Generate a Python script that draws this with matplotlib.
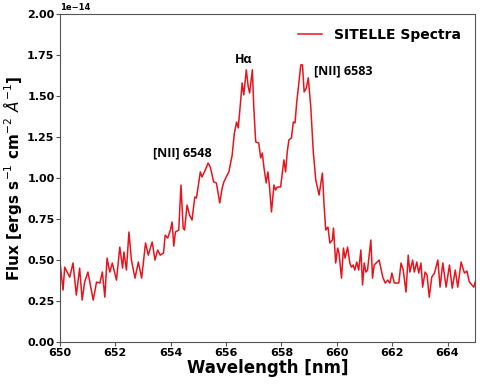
import numpy as np
import matplotlib
matplotlib.use("Agg")
import matplotlib.pyplot as plt

# wavelength [nm] and flux [1e-14 ergs/s/cm2/A]
wavelength = [650.00, 650.11, 650.17, 650.35, 650.47, 650.59, 650.71, 650.80, 650.89, 651.01,
              651.20, 651.32, 651.44, 651.53, 651.62, 651.70, 651.80, 651.89, 652.04, 652.16,
              652.26, 652.31, 652.40, 652.49, 652.58, 652.71, 652.83, 652.95, 653.09, 653.19,
              653.33, 653.43, 653.53, 653.62, 653.74, 653.80, 653.89, 653.99, 654.05, 654.11,
              654.17, 654.29, 654.37, 654.45, 654.50, 654.59, 654.68, 654.77, 654.87, 654.93,
              655.07, 655.13, 655.25, 655.35, 655.43, 655.55, 655.65, 655.77, 655.86, 655.92,
              656.04, 656.10, 656.22, 656.30, 656.38, 656.44, 656.52, 656.58, 656.64, 656.73,
              656.80, 656.85, 656.95, 657.00, 657.07, 657.18, 657.25, 657.31, 657.37, 657.45,
              657.51, 657.57, 657.64, 657.73, 657.79, 657.85, 657.97, 658.09, 658.15, 658.21,
              658.27, 658.36, 658.43, 658.49, 658.55, 658.63, 658.70, 658.76, 658.82, 658.90,
              658.97, 659.06, 659.15, 659.24, 659.36, 659.48, 659.54, 659.60, 659.68, 659.75,
              659.84, 659.88, 659.96, 660.03, 660.08, 660.17, 660.24, 660.30, 660.39, 660.47,
              660.53, 660.59, 660.65, 660.72, 660.79, 660.87, 660.93, 660.99, 661.05, 661.11,
              661.23, 661.29, 661.35, 661.53, 661.66, 661.75, 661.84, 661.92, 661.99, 662.08,
              662.24, 662.32, 662.40, 662.50, 662.58, 662.64, 662.74, 662.80, 662.89, 662.96,
              663.04, 663.10, 663.19, 663.26, 663.34, 663.43, 663.53, 663.65, 663.73, 663.83,
              663.95, 664.07, 664.17, 664.28, 664.37, 664.49, 664.61, 664.70, 664.79, 664.95,
              665.04]
flux = [0.488, 0.317, 0.457, 0.396, 0.482, 0.287, 0.451, 0.256, 0.366, 0.427,
        0.256, 0.366, 0.360, 0.427, 0.274, 0.512, 0.427, 0.482, 0.378, 0.579,
        0.451, 0.549, 0.439, 0.671, 0.500, 0.390, 0.488, 0.390, 0.604, 0.530,
        0.610, 0.500, 0.561, 0.530, 0.543, 0.652, 0.634, 0.683, 0.732, 0.585,
        0.671, 0.683, 0.957, 0.695, 0.683, 0.835, 0.774, 0.744, 0.884, 0.878,
        1.037, 1.006, 1.049, 1.091, 1.067, 0.976, 0.970, 0.848, 0.939, 0.976,
        1.018, 1.037, 1.140, 1.274, 1.341, 1.305, 1.457, 1.579, 1.506, 1.659,
        1.555, 1.518, 1.659, 1.433, 1.220, 1.213, 1.122, 1.152, 1.061, 0.970,
        1.037, 0.945, 0.793, 0.957, 0.927, 0.945, 0.945, 1.110, 1.037, 1.159,
        1.232, 1.244, 1.341, 1.335, 1.457, 1.579, 1.689, 1.689, 1.524, 1.549,
        1.610, 1.433, 1.159, 0.988, 0.896, 1.030, 0.835, 0.683, 0.701, 0.604,
        0.622, 0.695, 0.482, 0.573, 0.543, 0.390, 0.573, 0.512, 0.579, 0.482,
        0.457, 0.470, 0.439, 0.488, 0.439, 0.561, 0.348, 0.482, 0.427, 0.439,
        0.622, 0.390, 0.470, 0.500, 0.396, 0.360, 0.378, 0.360, 0.421, 0.360,
        0.360, 0.482, 0.439, 0.305, 0.530, 0.427, 0.500, 0.427, 0.488, 0.421,
        0.482, 0.335, 0.427, 0.409, 0.274, 0.396, 0.421, 0.500, 0.335, 0.482,
        0.335, 0.470, 0.329, 0.439, 0.335, 0.488, 0.421, 0.433, 0.366, 0.335,
        0.390]
scale = 1e-14

line_names = ["[NII] 6548", "H\u03b1", "[NII] 6583"]
label_x = [653.35, 656.62, 659.17]
label_y = [1.15, 1.72, 1.65]
label_ha = ["left", "center", "left"]


def main():
    fig = plt.figure(figsize=(4.8, 3.84), dpi=100)
    ax = fig.add_axes([0.125, 0.109, 0.865, 0.855])

    ax.plot(wavelength, np.array(flux) * scale, "-", color="#e8141c", lw=1.1,
            label="SITELLE Spectra")

    for name, x, y, ha in zip(line_names, label_x, label_y, label_ha):
        ax.text(x, y * scale, name, ha=ha, va="center", fontsize=9,
                fontweight="bold", family=["Open Sans", "DejaVu Sans"])

    ax.set_xlim(650, 665)
    ax.set_ylim(0, 2e-14)
    ax.set_xticks(np.arange(650, 665, 2))
    ax.set_yticks(np.arange(0, 2.01e-14, 0.25e-14))

    ax.set_xlabel("Wavelength [nm]", fontsize=12, fontweight="bold", labelpad=1)
    ax.set_ylabel(r"Flux [ergs s$^{-1}$ cm$^{-2}$ $\AA^{-1}$]", fontsize=11,
                  fontweight="bold", labelpad=2)

    for lab in ax.get_xticklabels() + ax.get_yticklabels():
        lab.set_fontweight("bold")
        lab.set_fontsize(8)
    ax.yaxis.get_offset_text().set_fontsize(6)
    ax.yaxis.get_offset_text().set_fontweight("bold")
    ax.tick_params(length=3, width=0.8, color="#555555", pad=1)
    for sp in ax.spines.values():
        sp.set_color("#555555")

    ax.legend(loc="upper right", frameon=False, prop={"weight": "bold", "size": 10},
              handlelength=1.7, handletextpad=0.9, borderaxespad=0.6)

    fig.savefig("out.png", dpi=100)


if __name__ == "__main__":
    main()
